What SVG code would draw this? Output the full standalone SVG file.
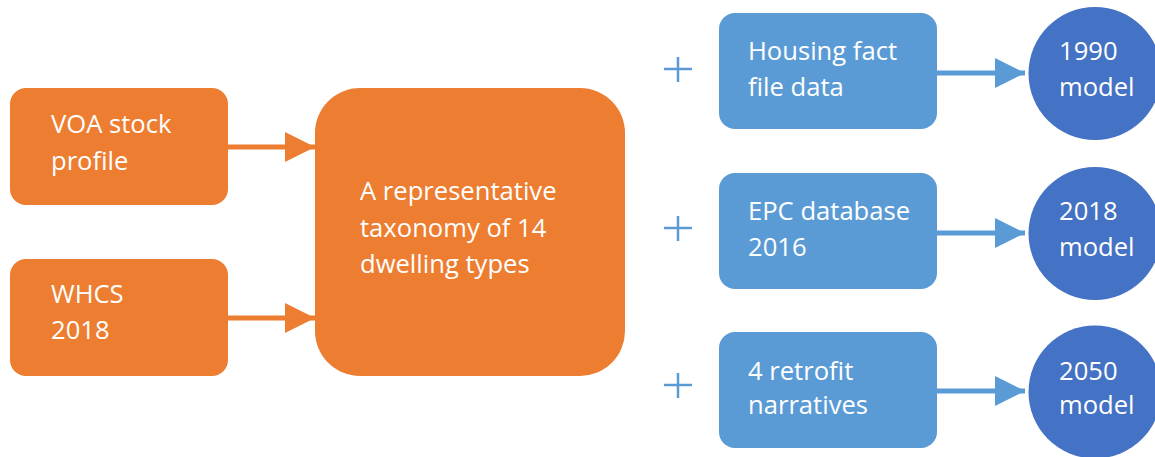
<svg xmlns="http://www.w3.org/2000/svg" width="1155" height="457" viewBox="0 0 1155 457">
<style>
.org{fill:#ED7D31}
.blu{fill:#5B9BD5}
.cir{fill:#4472C4}
.t{fill:#FFFFFF;font-family:"Open Sans","Liberation Sans",sans-serif;font-size:25.6px}
.ca{stroke:#ED7D31;stroke-width:5;fill:none}
.cb{stroke:#5B9BD5;stroke-width:5;fill:none}
.plus{stroke:#5B9BD5;stroke-width:2.5;fill:none}
</style>
<defs>
<marker id="ho" markerUnits="userSpaceOnUse" markerWidth="30" markerHeight="30" refX="30" refY="15" orient="auto"><path d="M0,0 L30,15 L0,30 Z" fill="#ED7D31"/></marker>
<marker id="hb" markerUnits="userSpaceOnUse" markerWidth="30" markerHeight="30" refX="30" refY="15" orient="auto"><path d="M0,0 L30,15 L0,30 Z" fill="#5B9BD5"/></marker>
</defs>
<rect width="1155" height="457" fill="#FFFFFF"/>
<g id="connectors">
<line class="ca" x1="227" y1="147" x2="315" y2="147" marker-end="url(#ho)"/>
<line class="ca" x1="227" y1="318" x2="315" y2="318" marker-end="url(#ho)"/>
<line class="cb" x1="936" y1="73" x2="1025" y2="73" marker-end="url(#hb)"/>
<line class="cb" x1="936" y1="233" x2="1025" y2="233" marker-end="url(#hb)"/>
<line class="cb" x1="936" y1="391" x2="1025" y2="391" marker-end="url(#hb)"/>
</g>
<g id="voa">
<rect class="org" x="10" y="88" width="218" height="117" rx="16"/>
<text class="t" x="51" y="133">VOA stock</text>
<text class="t" x="51" y="170">profile</text>
</g>
<g id="whcs">
<rect class="org" x="10" y="259" width="218" height="117" rx="16"/>
<text class="t" x="51" y="303">WHCS</text>
<text class="t" x="51" y="339">2018</text>
</g>
<g id="taxonomy">
<rect class="org" x="315" y="88" width="310" height="288" rx="45"/>
<text class="t" x="360" y="200">A representative</text>
<text class="t" x="360" y="237">taxonomy of 14</text>
<text class="t" x="360" y="273">dwelling types</text>
</g>
<g id="plus1"><path class="plus" d="M664,69 H692 M678,57 V82"/></g>
<g id="plus2"><path class="plus" d="M664,228 H692 M678,216 V241"/></g>
<g id="plus3"><path class="plus" d="M664,385 H692 M678,373 V398"/></g>
<g id="hff">
<rect class="blu" x="719" y="13" width="218" height="116" rx="16"/>
<text class="t" x="748" y="60">Housing fact</text>
<text class="t" x="748" y="96">file data</text>
</g>
<g id="epc">
<rect class="blu" x="719" y="173" width="218" height="116" rx="16"/>
<text class="t" x="748" y="220">EPC database</text>
<text class="t" x="748" y="256">2016</text>
</g>
<g id="retrofit">
<rect class="blu" x="719" y="332" width="218" height="116" rx="16"/>
<text class="t" x="748" y="380">4 retrofit</text>
<text class="t" x="748" y="414">narratives</text>
</g>
<g id="m1990">
<circle class="cir" cx="1095" cy="73.5" r="66.5"/>
<text class="t" x="1059" y="60">1990</text>
<text class="t" x="1059" y="96">model</text>
</g>
<g id="m2018">
<circle class="cir" cx="1095" cy="233.5" r="66.5"/>
<text class="t" x="1059" y="220">2018</text>
<text class="t" x="1059" y="256">model</text>
</g>
<g id="m2050">
<circle class="cir" cx="1095" cy="392" r="66.5"/>
<text class="t" x="1059" y="380">2050</text>
<text class="t" x="1059" y="414">model</text>
</g>
</svg>
